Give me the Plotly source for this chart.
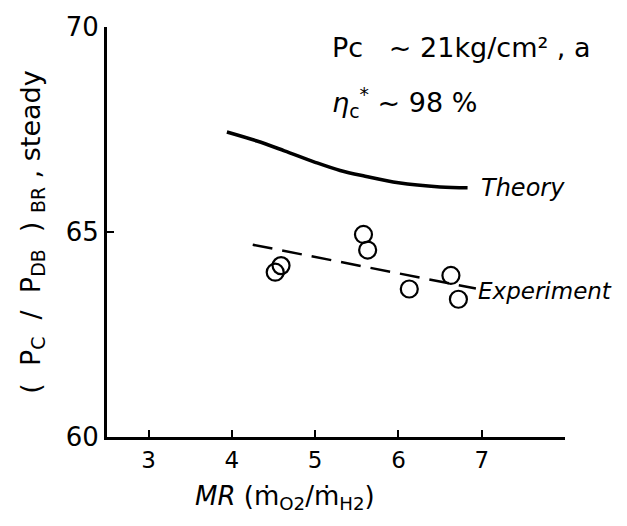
import plotly.graph_objects as go

theory_mr = [3.94, 4.3, 4.63, 5.0, 5.3, 5.6, 6.0, 6.5, 6.83]
theory_p = [67.44, 67.22, 66.98, 66.7, 66.5, 66.36, 66.2, 66.1, 66.08]

trend_mr = [4.25, 6.93]
trend_p = [64.69, 63.62]

exp_mr = [4.52, 4.59, 5.58, 5.63, 6.13, 6.63, 6.72]
exp_p = [64.02, 64.18, 64.94, 64.56, 63.61, 63.94, 63.36]

x_ticks = [3, 4, 5, 6, 7]
y_ticks = [60, 65, 70]

font = "DejaVu Sans"

fig = go.Figure()
fig.add_trace(go.Scatter(x=theory_mr, y=theory_p, mode="lines",
                         line=dict(color="black", width=3.5, shape="spline"),
                         showlegend=False))
fig.add_trace(go.Scatter(x=trend_mr, y=trend_p, mode="lines",
                         line=dict(color="black", width=2.5, dash="20px,10px"),
                         showlegend=False))
fig.add_trace(go.Scatter(x=exp_mr, y=exp_p, mode="markers",
                         marker=dict(symbol="circle-open", size=17, color="black",
                                     line=dict(width=2.2, color="black")),
                         showlegend=False))

fig.add_annotation(x=6.97, y=66.08, text="<i>Theory</i>", showarrow=False,
                   xanchor="left", yanchor="middle", font=dict(size=24, color="black", family=font))
fig.add_annotation(x=6.93, y=63.55, text="<i>Experiment</i>", showarrow=False,
                   xanchor="left", yanchor="middle", font=dict(size=23, color="black", family=font))
fig.add_annotation(x=5.18, y=69.5, text="Pc   ~ 21kg/cm² , a", showarrow=False,
                   xanchor="left", yanchor="middle", font=dict(size=27, color="black", family=font))
fig.add_annotation(x=5.18, y=68.15, text="<i>η</i><sub>c</sub><sup>*</sup> ~ 98 %", showarrow=False,
                   xanchor="left", yanchor="middle", font=dict(size=27, color="black", family=font))
fig.add_annotation(x=0.389, y=-0.148, xref="paper", yref="paper",
                   text="<i>MR</i> (ṁ<sub>O2</sub>/ṁ<sub>H2</sub>)", showarrow=False,
                   xanchor="center", yanchor="middle", font=dict(size=26, color="black", family=font))

fig.update_layout(
    width=627, height=526,
    margin=dict(l=107, r=62, t=22, b=89),
    paper_bgcolor="white", plot_bgcolor="white",
    font=dict(family=font, color="black"),
)
fig.update_xaxes(range=[2.5, 8.0], tickvals=x_ticks, ticks="inside", ticklen=7, tickwidth=2,
                 tickcolor="black", showline=True, linecolor="black", linewidth=3,
                 showgrid=False, zeroline=False, tickfont=dict(size=23, family=font))
fig.update_yaxes(range=[60, 70], tickvals=y_ticks, ticks="inside", ticklen=7, tickwidth=2,
                 tickcolor="black", showline=True, linecolor="black", linewidth=3,
                 showgrid=False, zeroline=False, tickfont=dict(size=26, family=font),
                 title=dict(text="(  P<sub>C</sub>  /  P<sub>DB</sub>  ) <sub>BR</sub> , steady",
                            font=dict(size=27, family=font), standoff=18))

fig.write_html("out.html")
